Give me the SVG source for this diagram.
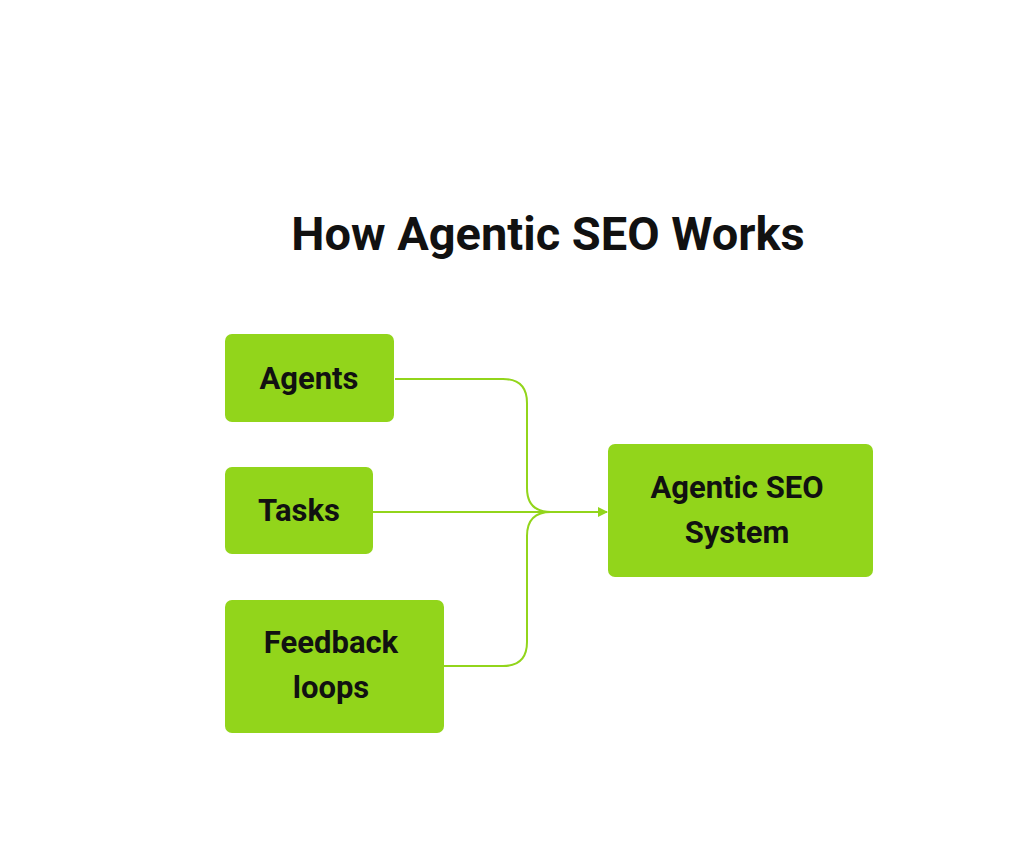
<svg xmlns="http://www.w3.org/2000/svg" width="1024" height="857" viewBox="0 0 1024 857">
<style>
.n{fill:#92d51b}
.t{font-family:Roboto,"Liberation Sans",sans-serif;font-weight:bold;font-size:31px;fill:#111;text-anchor:middle}
.c{fill:none;stroke:#92d51b;stroke-width:2}
</style>
<defs><marker id="a" markerWidth="10" markerHeight="10" refX="9" refY="5" orient="auto" markerUnits="userSpaceOnUse"><path d="M0,0L10,5L0,10z" fill="#92d51b"/></marker></defs>
<rect width="1024" height="857" fill="#fff"/>
<text x="548" y="250" font-family="Roboto,'Liberation Sans',sans-serif" font-weight="bold" font-size="47" fill="#111" text-anchor="middle">How Agentic SEO Works</text>
<g id="connectors">
<path class="c" d="M395,379H503Q527,379 527,403V488Q527,512 551,512"/>
<path class="c" d="M395,666H503Q527,666 527,642V536Q527,512 551,512"/>
<path class="c" d="M373,512H607" marker-end="url(#a)"/>
</g>
<g id="agents"><rect class="n" x="225" y="334" width="169" height="88" rx="7"/><text class="t" x="309" y="389">Agents</text></g>
<g id="tasks"><rect class="n" x="225" y="467" width="148" height="87" rx="7"/><text class="t" x="299" y="521">Tasks</text></g>
<g id="feedback"><rect class="n" x="225" y="600" width="219" height="133" rx="7"/><text class="t" x="331" y="653">Feedback</text><text class="t" x="331" y="698">loops</text></g>
<g id="system"><rect class="n" x="608" y="444" width="265" height="133" rx="7"/><text class="t" x="737" y="498">Agentic SEO</text><text class="t" x="737" y="543">System</text></g>
</svg>
